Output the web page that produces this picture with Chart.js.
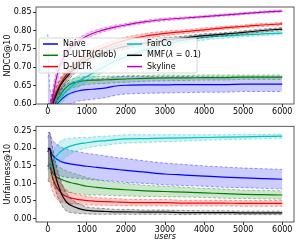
<!DOCTYPE html>
<html>
<head>
<meta charset="utf-8">
<script src="https://cdn.jsdelivr.net/npm/chart.js@4.4.1/dist/chart.umd.min.js"></script>
<style>
  html, body { margin: 0; padding: 0; background: #fff; }
  #wrap { position: relative; width: 305px; height: 247px; }
  .panel { position: absolute; left: 0; }
</style>
</head>
<body>
<div id="wrap">
  <div class="panel" style="top:0"><canvas id="ndcgChart" width="305" height="120"></canvas></div>
  <div class="panel" style="top:120px"><canvas id="unfChart" width="305" height="127"></canvas></div>
</div>
<script>
// x positions (number of users) at which the curves were read
const users = [0, 50, 100, 200, 300, 400, 500, 600, 800, 1000, 1250, 1500, 1750, 2000, 2500, 3000, 3500, 4000, 4500, 5000, 5500, 6000];

const seriesNames = ['Naive', 'D-ULTR(Glob)', 'D-ULTR', 'FairCo', 'MMF(λ = 0.1)', 'Skyline'];

// NDCG@10, mean and spread
const naiveNdcg = [0.60, 0.60, 0.585, 0.595, 0.607, 0.617, 0.625, 0.630, 0.636, 0.639, 0.641, 0.644, 0.649, 0.651, 0.652, 0.652, 0.653, 0.653, 0.653, 0.654, 0.654, 0.654];
const naiveNdcgStd = [0.19, 0.05, 0.04, 0.035, 0.032, 0.03, 0.03, 0.029, 0.028, 0.028, 0.027, 0.026, 0.025, 0.024, 0.023, 0.022, 0.022, 0.021, 0.021, 0.02, 0.02, 0.02];
const globNdcg = [0.55, 0.56, 0.575, 0.60, 0.62, 0.637, 0.648, 0.655, 0.661, 0.664, 0.665, 0.666, 0.667, 0.668, 0.670, 0.671, 0.671, 0.672, 0.672, 0.673, 0.673, 0.673];
const globNdcgStd = [0.02, 0.02, 0.02, 0.018, 0.016, 0.015, 0.014, 0.013, 0.012, 0.011, 0.01, 0.01, 0.009, 0.009, 0.008, 0.008, 0.007, 0.007, 0.007, 0.006, 0.006, 0.006];
const dultrNdcg = [0.55, 0.57, 0.595, 0.628, 0.65, 0.668, 0.683, 0.695, 0.715, 0.73, 0.745, 0.756, 0.766, 0.774, 0.785, 0.792, 0.797, 0.802, 0.807, 0.811, 0.815, 0.818];
const dultrNdcgStd = [0.03, 0.03, 0.025, 0.02, 0.018, 0.016, 0.015, 0.014, 0.013, 0.012, 0.011, 0.01, 0.009, 0.008, 0.007, 0.006, 0.005, 0.005, 0.004, 0.004, 0.004, 0.004];
const fairNdcg = [0.55, 0.57, 0.58, 0.60, 0.615, 0.627, 0.638, 0.647, 0.663, 0.675, 0.69, 0.705, 0.718, 0.728, 0.748, 0.763, 0.774, 0.781, 0.785, 0.788, 0.791, 0.793];
const fairNdcgStd = [0.03, 0.03, 0.025, 0.022, 0.02, 0.02, 0.018, 0.017, 0.016, 0.015, 0.014, 0.013, 0.012, 0.011, 0.01, 0.009, 0.008, 0.007, 0.006, 0.005, 0.005, 0.004];
const mmfNdcg = [0.55, 0.57, 0.59, 0.62, 0.645, 0.662, 0.675, 0.688, 0.705, 0.72, 0.733, 0.743, 0.751, 0.757, 0.766, 0.774, 0.78, 0.786, 0.79, 0.795, 0.8, 0.804];
const mmfNdcgStd = [0.03, 0.03, 0.025, 0.02, 0.018, 0.016, 0.015, 0.014, 0.012, 0.011, 0.01, 0.009, 0.008, 0.008, 0.007, 0.006, 0.005, 0.005, 0.004, 0.004, 0.004, 0.004];
const skyNdcg = [0.55, 0.57, 0.60, 0.66, 0.70, 0.725, 0.742, 0.755, 0.772, 0.785, 0.796, 0.804, 0.81, 0.815, 0.824, 0.83, 0.834, 0.838, 0.842, 0.846, 0.85, 0.853];
const skyNdcgStd = [0.03, 0.03, 0.025, 0.02, 0.015, 0.012, 0.01, 0.009, 0.008, 0.007, 0.006, 0.005, 0.005, 0.004, 0.004, 0.004, 0.003, 0.003, 0.003, 0.003, 0.003, 0.003];

// Unfairness@10, mean and spread (no Skyline curve in this panel)
const naiveUnf = [0.19, 0.20, 0.185, 0.172, 0.165, 0.16, 0.157, 0.155, 0.152, 0.149, 0.146, 0.143, 0.14, 0.137, 0.132, 0.127, 0.124, 0.121, 0.118, 0.116, 0.114, 0.112];
const naiveUnfStd = [0.04, 0.045, 0.043, 0.043, 0.042, 0.041, 0.04, 0.039, 0.038, 0.037, 0.036, 0.035, 0.034, 0.034, 0.032, 0.031, 0.03, 0.029, 0.029, 0.028, 0.028, 0.028];
const globUnf = [0.15, 0.145, 0.135, 0.121, 0.114, 0.109, 0.105, 0.102, 0.097, 0.092, 0.089, 0.086, 0.084, 0.082, 0.079, 0.077, 0.075, 0.073, 0.071, 0.069, 0.068, 0.067];
const globUnfStd = [0.04, 0.04, 0.038, 0.035, 0.033, 0.031, 0.03, 0.029, 0.027, 0.025, 0.022, 0.02, 0.019, 0.018, 0.016, 0.015, 0.014, 0.013, 0.013, 0.012, 0.012, 0.012];
const dultrUnf = [0.15, 0.15, 0.125, 0.095, 0.078, 0.068, 0.062, 0.058, 0.054, 0.051, 0.049, 0.048, 0.047, 0.046, 0.045, 0.045, 0.044, 0.044, 0.044, 0.043, 0.043, 0.043];
const dultrUnfStd = [0.045, 0.045, 0.04, 0.035, 0.028, 0.022, 0.018, 0.016, 0.013, 0.012, 0.011, 0.01, 0.01, 0.009, 0.009, 0.009, 0.008, 0.008, 0.008, 0.008, 0.008, 0.008];
const fairUnf = [0.14, 0.145, 0.155, 0.175, 0.188, 0.197, 0.203, 0.207, 0.213, 0.216, 0.22, 0.222, 0.225, 0.227, 0.228, 0.229, 0.23, 0.231, 0.232, 0.233, 0.234, 0.235];
const fairUnfStd = [0.03, 0.03, 0.03, 0.03, 0.03, 0.028, 0.025, 0.022, 0.018, 0.015, 0.014, 0.013, 0.012, 0.012, 0.011, 0.01, 0.009, 0.008, 0.007, 0.007, 0.006, 0.006];
const mmfUnf = [0.2, 0.2, 0.17, 0.12, 0.085, 0.06, 0.045, 0.037, 0.028, 0.023, 0.021, 0.02, 0.019, 0.019, 0.018, 0.018, 0.017, 0.017, 0.017, 0.016, 0.016, 0.016];
const mmfUnfStd = [0.045, 0.045, 0.045, 0.04, 0.035, 0.03, 0.025, 0.02, 0.014, 0.01, 0.009, 0.008, 0.007, 0.007, 0.006, 0.006, 0.006, 0.005, 0.005, 0.005, 0.005, 0.005];

const xTicks = [0, 1000, 2000, 3000, 4000, 5000, 6000];
const ndcgTicks = [0.60, 0.65, 0.70, 0.75, 0.80, 0.85];
const unfTicks = [0.00, 0.05, 0.10, 0.15, 0.20, 0.25];

const colors = [[0, 0, 255], [0, 128, 0], [255, 0, 0], [0, 191, 191], [0, 0, 0], [191, 0, 191]];
const FONT = 'DejaVu Sans';

Chart.defaults.font.family = FONT;
Chart.defaults.font.size = 8;
Chart.defaults.color = '#000';
Chart.defaults.animation = false;

function rgba(c, a) {
  return `rgba(${c[0]},${c[1]},${c[2]},${a})`;
}

// one series = lower edge, upper edge (filled down to lower), mean line
function bandSets(idx, mean, std) {
  const c = colors[idx];
  const base = (seriesNames.length - idx) * 10;
  const pts = (sign) => users.map((u, i) => ({ x: u, y: mean[i] + sign * std[i] }));
  const edge = {
    borderColor: rgba(c, 0.55),
    borderWidth: 0.7,
    borderDash: [3, 2],
    pointRadius: 0,
    cubicInterpolationMode: 'monotone'
  };
  return [
    Object.assign({}, edge, { data: pts(-1), fill: false, order: base + 2 }),
    Object.assign({}, edge, { data: pts(1), fill: '-1', backgroundColor: rgba(c, 0.2), order: base + 1 }),
    {
      label: seriesNames[idx],
      data: pts(0),
      borderColor: rgba(c, 1),
      borderWidth: 1.2,
      pointRadius: 0,
      fill: false,
      cubicInterpolationMode: 'monotone',
      order: base
    }
  ];
}

const framePlugin = {
  id: 'frame',
  afterDraw(chart) {
    const { ctx, chartArea: a } = chart;
    ctx.save();
    ctx.strokeStyle = '#333';
    ctx.lineWidth = 0.8;
    ctx.strokeRect(a.left, a.top, a.right - a.left, a.bottom - a.top);
    ctx.restore();
  }
};

// two-column legend inside the upper panel
const legendPlugin = {
  id: 'twoColLegend',
  afterDraw(chart) {
    const { ctx, chartArea: a } = chart;
    const x0 = a.left + 3, y0 = a.top + 31, w = 158, h = 35;
    ctx.save();
    ctx.fillStyle = 'rgba(255,255,255,0.8)';
    ctx.strokeStyle = '#ccc';
    ctx.lineWidth = 0.8;
    ctx.beginPath();
    ctx.roundRect(x0, y0, w, h, 2);
    ctx.fill();
    ctx.stroke();
    ctx.textBaseline = 'middle';
    seriesNames.forEach((name, i) => {
      const col = Math.floor(i / 3), row = i % 3;
      const lx = x0 + 4 + col * 84;
      const ly = y0 + 6 + row * 11.3;
      ctx.strokeStyle = rgba(colors[i], 1);
      ctx.lineWidth = 1.5;
      ctx.beginPath();
      ctx.moveTo(lx, ly);
      ctx.lineTo(lx + 15, ly);
      ctx.stroke();
      ctx.fillStyle = '#000';
      let tx = lx + 20;
      if (name.indexOf('λ') >= 0) {
        const parts = name.split('λ');
        ctx.font = `8px "${FONT}"`;
        ctx.fillText(parts[0], tx, ly);
        tx += ctx.measureText(parts[0]).width;
        ctx.font = `italic 8px "${FONT}"`;
        ctx.fillText('λ', tx, ly);
        tx += ctx.measureText('λ').width;
        ctx.font = `8px "${FONT}"`;
        ctx.fillText(parts[1], tx, ly);
      } else {
        ctx.font = `8px "${FONT}"`;
        ctx.fillText(name, tx, ly);
      }
    });
    ctx.restore();
  }
};

function makeOptions(yMin, yMax, yTicks, yTitle, xHeight, withXTitle, padTop) {
  const tickGrid = { drawOnChartArea: false, drawTicks: true, tickLength: 3, tickColor: '#333' };
  return {
    responsive: false,
    devicePixelRatio: 1,
    layout: { padding: { top: padTop, right: 11, left: 0, bottom: 0 } },
    plugins: { legend: { display: false }, tooltip: { enabled: false } },
    scales: {
      x: {
        type: 'linear',
        min: -300,
        max: 6300,
        border: { display: false },
        grid: tickGrid,
        ticks: { autoSkip: false, maxRotation: 0, padding: 0, callback: (v) => String(v) },
        afterBuildTicks: (scale) => { scale.ticks = xTicks.map((v) => ({ value: v })); },
        afterFit: (scale) => { scale.height = xHeight; },
        title: {
          display: withXTitle,
          text: 'users',
          font: { style: 'italic', size: 8 },
          padding: { top: 0, bottom: 5 }
        }
      },
      y: {
        min: yMin,
        max: yMax,
        border: { display: false },
        grid: tickGrid,
        ticks: { padding: 1.5, callback: (v) => Number(v).toFixed(2) },
        afterBuildTicks: (scale) => { scale.ticks = yTicks.map((v) => ({ value: v })); },
        afterFit: (scale) => { scale.width = 36; },
        title: { display: true, text: yTitle, font: { size: 8 }, padding: { top: 3, bottom: 0 } }
      }
    }
  };
}

document.addEventListener('DOMContentLoaded', () => {
  const ndcgSets = [
    ...bandSets(0, naiveNdcg, naiveNdcgStd),
    ...bandSets(1, globNdcg, globNdcgStd),
    ...bandSets(2, dultrNdcg, dultrNdcgStd),
    ...bandSets(3, fairNdcg, fairNdcgStd),
    ...bandSets(4, mmfNdcg, mmfNdcgStd),
    ...bandSets(5, skyNdcg, skyNdcgStd)
  ];
  new Chart(document.getElementById('ndcgChart'), {
    type: 'line',
    data: { datasets: ndcgSets },
    options: makeOptions(0.60, 0.864, ndcgTicks, 'NDCG@10', 16, false, 7),
    plugins: [framePlugin, legendPlugin]
  });

  const unfSets = [
    ...bandSets(0, naiveUnf, naiveUnfStd),
    ...bandSets(1, globUnf, globUnfStd),
    ...bandSets(2, dultrUnf, dultrUnfStd),
    ...bandSets(3, fairUnf, fairUnfStd),
    ...bandSets(4, mmfUnf, mmfUnfStd)
  ];
  new Chart(document.getElementById('unfChart'), {
    type: 'line',
    data: { datasets: unfSets },
    options: makeOptions(-0.01, 0.263, unfTicks, 'Unfairness@10', 25, true, 4),
    plugins: [framePlugin]
  });
});
</script>
</body>
</html>
